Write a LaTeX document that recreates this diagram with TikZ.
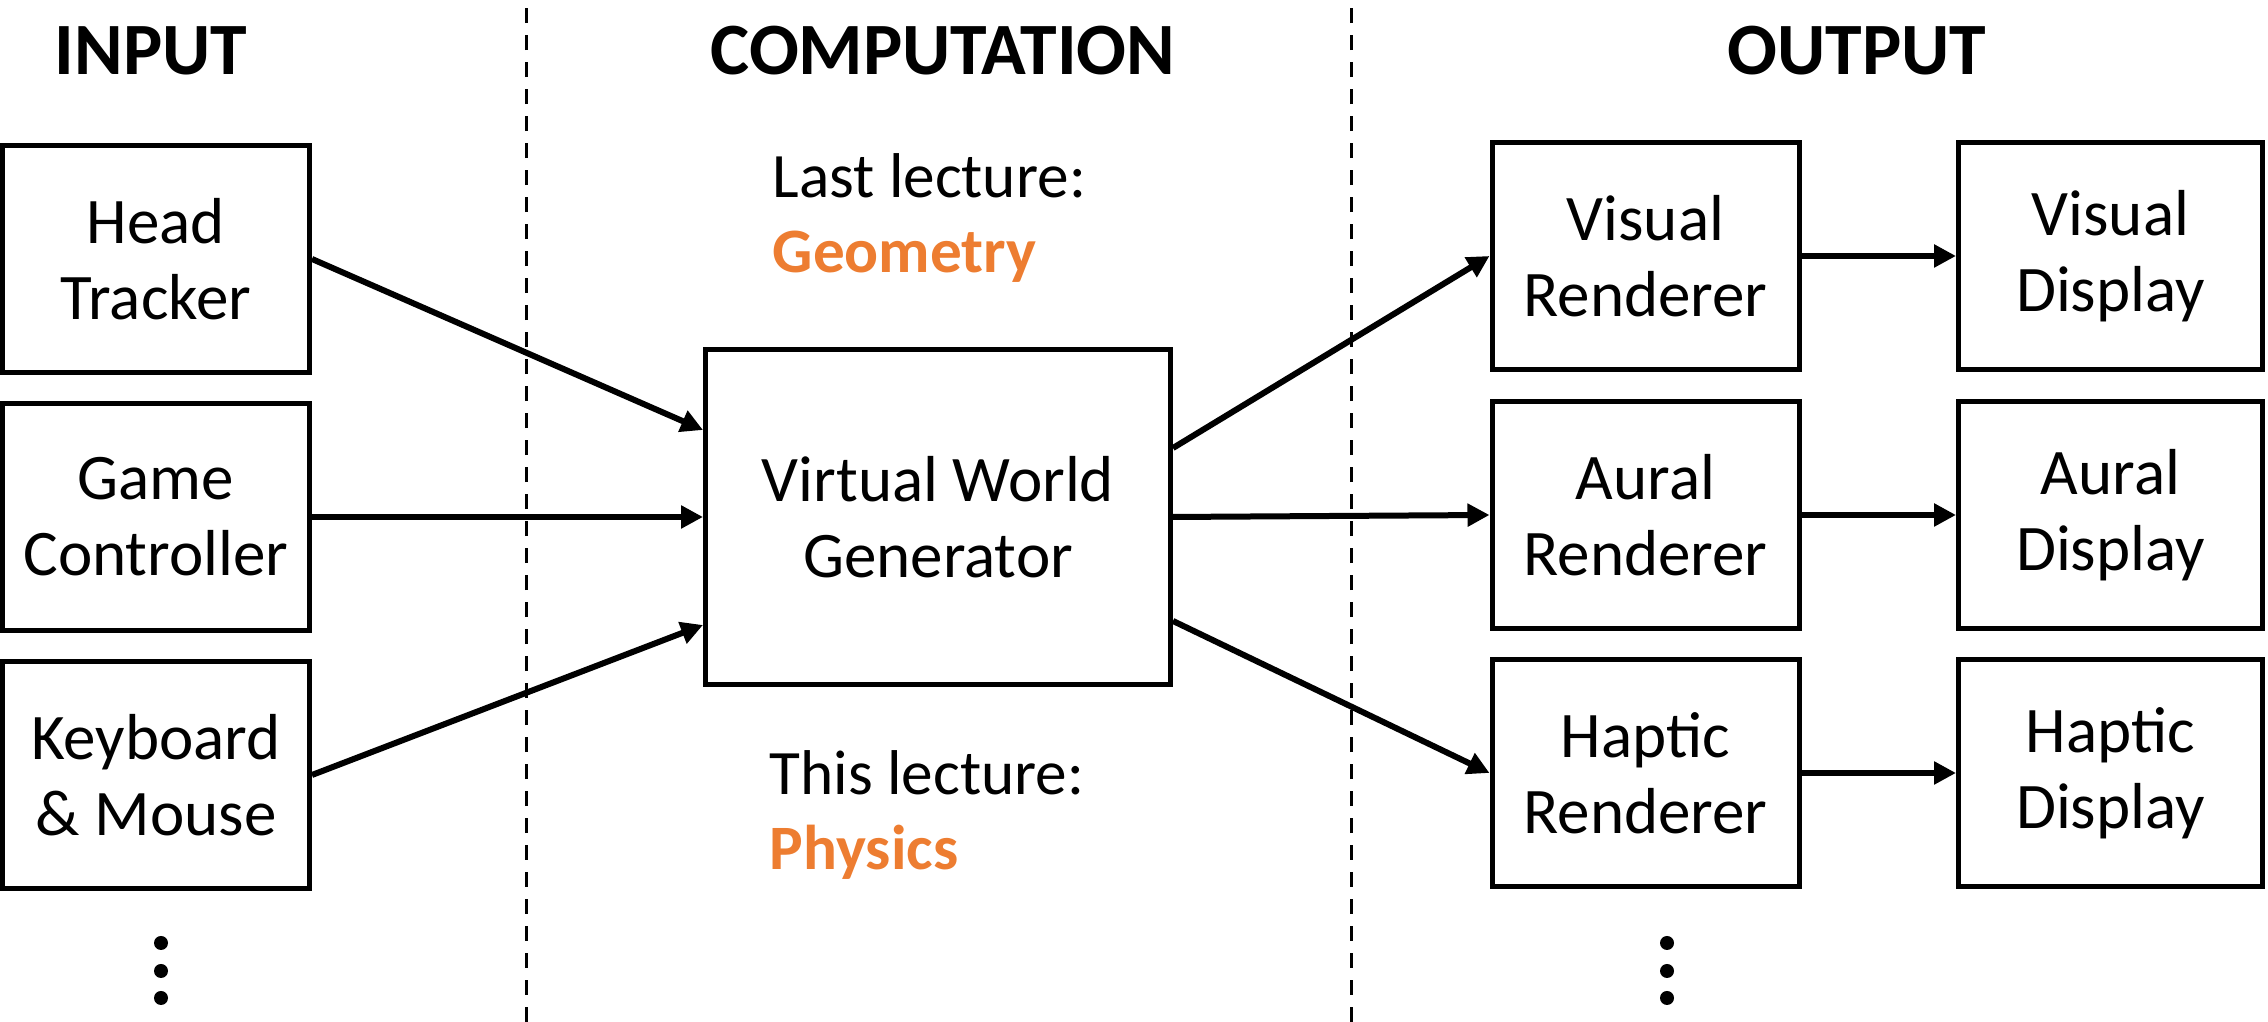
\documentclass[tikz,border=0pt]{standalone}
\usepackage{fontspec}
\setmainfont{Carlito}
\usepackage{xcolor}
\usepackage{tikz}
\usetikzlibrary{arrows.meta, calc}
\definecolor{lectorange}{RGB}{237,125,49}

\begin{document}
\begin{tikzpicture}[
    box/.style={rectangle, draw=black, line width=0.05cm, minimum width=3.07cm, minimum height=2.27cm, align=center, font=\fontsize{18.5}{21.6}\selectfont},
    flow/.style={-{Triangle[length=0.22cm, width=0.22cm]}, line width=0.06cm},
    heading/.style={font=\fontsize{21}{25}\selectfont\bfseries},
    note/.style={inner sep=0pt, align=left, anchor=west, font=\fontsize{18}{21.6}\selectfont}
]
    \useasboundingbox (0,0) rectangle (22.68,10.22);

    % Column separators
    \draw[dashed, line width=0.03cm, dash pattern=on 0.15cm off 0.12cm] (5.26,0) -- (5.26,10.22);
    \draw[dashed, line width=0.03cm, dash pattern=on 0.15cm off 0.12cm] (13.51,0) -- (13.51,10.22);

    % Headings
    \node[heading] (input) at (1.51,9.71) {INPUT};
    \node[heading] (computation) at (9.43,9.71) {COMPUTATION};
    \node[heading] (output) at (18.57,9.71) {OUTPUT};

    % Input devices
    \node[box] (head) at (1.56,7.63) {Head\\Tracker};
    \node[box] (game) at (1.56,5.05) {Game\\Controller};
    \node[box] (keys) at (1.56,2.47) {Keyboard\\\& Mouse};

    % Central generator
    \node[box, minimum width=4.65cm, minimum height=3.35cm] (vwg) at (9.38,5.05) {Virtual World\\Generator};

    % Lecture notes
    \node[note] (lastlec) at (7.72,8.04) {Last lecture:\\\textcolor{lectorange}{\bfseries Geometry}};
    \node[note] (thislec) at (7.69,2.07) {This lecture:\\\textcolor{lectorange}{\bfseries Physics}};

    % Renderers
    \node[box] (visrend) at (16.455,7.66) {Visual\\Renderer};
    \node[box] (aurrend) at (16.455,5.07) {Aural\\Renderer};
    \node[box] (haprend) at (16.455,2.49) {Haptic\\Renderer};

    % Displays
    \node[box, minimum width=3.04cm] (visdisp) at (21.105,7.66) {Visual\\Display};
    \node[box, minimum width=3.04cm] (aurdisp) at (21.105,5.07) {Aural\\Display};
    \node[box, minimum width=3.04cm] (hapdisp) at (21.105,2.49) {Haptic\\Display};

    % Inputs into the generator
    \draw[flow] (head.east) -- ([yshift=0.87cm]vwg.west);
    \draw[flow] (game.east) -- (vwg.west);
    \draw[flow] (keys.east) -- ([yshift=-1.08cm]vwg.west);

    % Generator out to renderers
    \draw[flow] ([yshift=0.69cm]vwg.east) -- (visrend.west);
    \draw[flow] (vwg.east) -- (aurrend.west);
    \draw[flow] ([yshift=-1.04cm]vwg.east) -- (haprend.west);

    % Renderers to displays
    \draw[flow] (visrend.east) -- (visdisp.west);
    \draw[flow] (aurrend.east) -- (aurdisp.west);
    \draw[flow] (haprend.east) -- (hapdisp.west);

    % More devices
    \foreach \y in {0.79,0.51,0.24} {
        \fill (1.61,\y) circle (0.07);
        \fill (16.67,\y) circle (0.07);
    }
\end{tikzpicture}
\end{document}
